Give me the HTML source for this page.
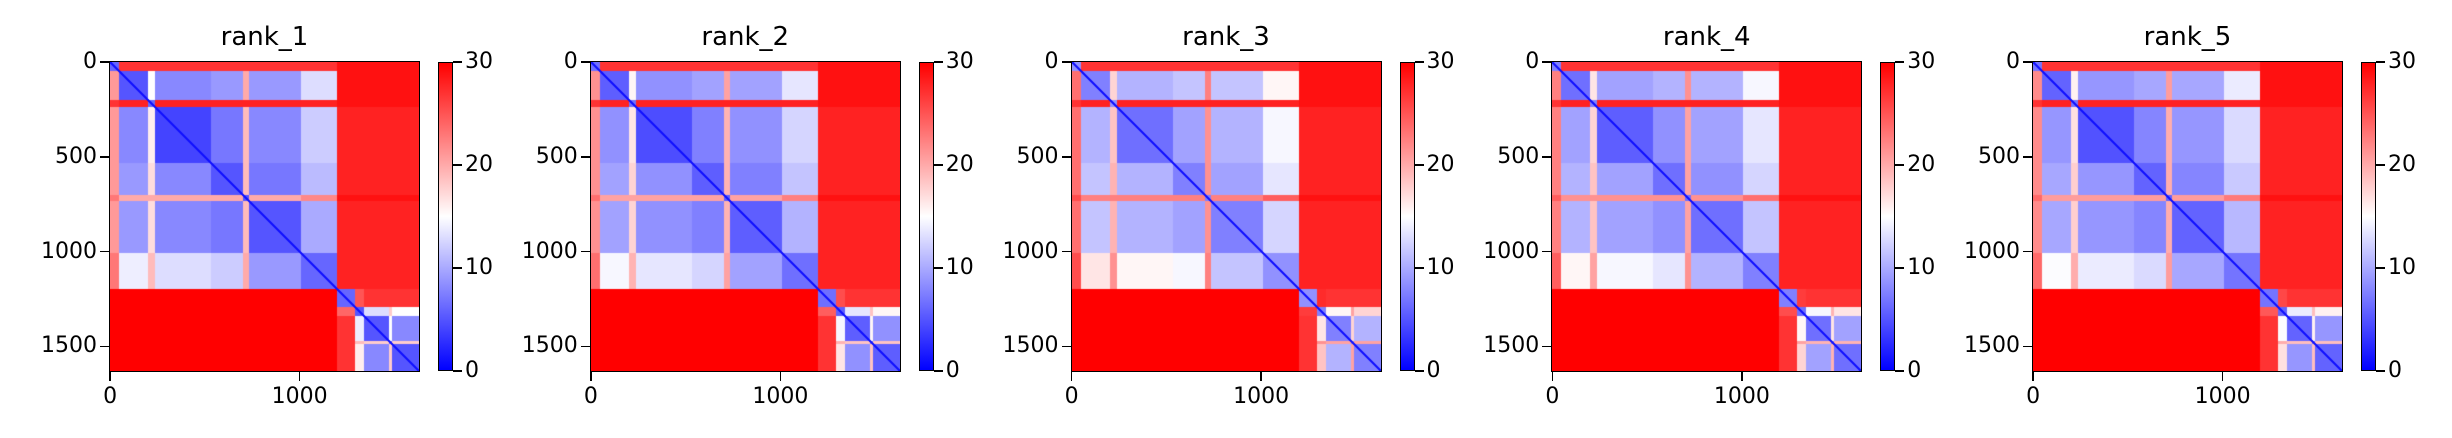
<!DOCTYPE html>
<html><head><meta charset="utf-8">
<style>
body{margin:0;background:#fff;width:2452px;height:438px;overflow:hidden;position:relative;font-family:"DejaVu Sans","Liberation Sans",sans-serif;}
.abs{position:absolute;}
.tl{position:absolute;font-size:22px;color:#000;white-space:nowrap;line-height:1;}
.title{position:absolute;font-size:26px;white-space:nowrap;line-height:1;transform:translateX(-50%);}
</style></head>
<body>
<div id="root"></div>
<script>
// ---- data ----
const panelTitles = ["rank_1","rank_2","rank_3","rank_4","rank_5"];
const panelShift = [0, 0.5, 2.5, 1.5, 0.8];
const nRes = 1630;
const segEdges = [0,45,200,235,535,700,735,1010,1195,1290,1340,1470,1490,1630];
const blockPAE = [
 [6,27,27,27,27,27,27,27,29,29,29,29,29],
 [21,5,15,8,9,20,9,13,29,29,29,29,29],
 [27,28,6,28,28,28,28,28,29,29,29,29,29],
 [21,8,16,4,7,19,8,12,28,28,28,28,28],
 [21,9,17,8,5,19,7,11,28,28,28,28,28],
 [23,20,20,20,20,5,20,22,29,29,29,29,29],
 [21,9,17,8,7,19,5,10,28,28,28,28,28],
 [23,14,19,13,12,20,9,6,28,28,28,28,28],
 [30,30,30,30,30,30,30,30,6,25,27,27,27],
 [30,30,30,30,30,30,30,30,24,5,13,18,15],
 [30,30,30,30,30,30,30,30,27,14,5,15,8],
 [30,30,30,30,30,30,30,30,27,19,18,6,18],
 [30,30,30,30,30,30,30,30,27,16,8,18,5]
];
const yTicks = [0,500,1000,1500];
const xTicks = [0,1000];
const cbTicks = [0,10,20,30];
const vmax = 30;

// ---- layout ----
const L0 = 110, DX = 480.75, TOP = 62, W = 309, CBO = 328, CBW = 15;
function pos(v){ return (v+0.5)/nRes*W; }
function seg(r){ for(let k=0;k<segEdges.length-1;k++){ if(r<segEdges[k+1]) return k; } return segEdges.length-2; }
function cmap(v){
  v=Math.max(0,Math.min(vmax,v))/vmax;
  if(v<0.5){const t=v/0.5;return [Math.round(255*t),Math.round(255*t),255];}
  const t=(v-0.5)/0.5;return [255,Math.round(255*(1-t)),Math.round(255*(1-t))];
}
const root=document.getElementById('root');
function add(tag,cls,style,text){const e=document.createElement(tag);if(cls)e.className=cls;e.setAttribute('style',style);if(text!==undefined)e.textContent=text;root.appendChild(e);return e;}

panelTitles.forEach((title,p)=>{
  const left = L0 + DX*p;
  const t = add('div','title',`left:${left+W/2}px;top:24px;`,title);
  
  
  const cv = document.createElement('canvas');
  cv.width=W; cv.height=W;
  cv.setAttribute('style',`position:absolute;left:${left}px;top:${TOP}px;width:${W}px;height:${W}px;`);
  
  
  root.appendChild(cv);
  const ctx=cv.getContext('2d');
  const img=ctx.createImageData(W,W);
  for(let i=0;i<W;i++){
    const ri=(i+0.5)*nRes/W, si=seg(ri);
    for(let j=0;j<W;j++){
      const rj=(j+0.5)*nRes/W, sj=seg(rj);
      let v=blockPAE[si][sj];
      if(v<26) v+=panelShift[p];
      if(Math.abs(ri-rj)<6) v=1;
      const c=cmap(v), o=(i*W+j)*4;
      img.data[o]=c[0];img.data[o+1]=c[1];img.data[o+2]=c[2];img.data[o+3]=255;
    }
  }
  ctx.putImageData(img,0,0);
  const fr=add('div','abs',`left:${left-1}px;top:${TOP-1}px;width:${W}px;height:${W}px;border:1.5px solid #000;`);
  
  
  yTicks.forEach(v=>{
    const y=TOP+pos(v);
    const tk=add('div','abs',`left:${left-10}px;top:${y-0.75}px;width:10px;height:1.5px;background:#000;`);
    
    
    const lb=add('div','tl',`right:${2452-(left-13)}px;top:${y-11}px;`,String(v));
    
    
  });
  xTicks.forEach(v=>{
    const x=left+pos(v);
    const tk=add('div','abs',`left:${x-0.75}px;top:${TOP+W}px;width:1.5px;height:10px;background:#000;`);
    
    
    const lb=add('div','tl',`left:${x}px;top:${TOP+W+15}px;transform:translateX(-50%);`,String(v));
    
    
  });
  const cbl=left+CBO;
  const cb=add('div','abs',`left:${cbl}px;top:${TOP}px;width:${CBW}px;height:${W}px;background:linear-gradient(to top,#0000ff,#ffffff,#ff0000);border:1.5px solid #000;box-sizing:border-box;`);
  
  
  cbTicks.forEach(v=>{
    const y=TOP+W-(v/vmax)*W;
    const tk=add('div','abs',`left:${cbl+CBW}px;top:${y-0.75}px;width:9px;height:1.5px;background:#000;`);
    
    
    const lb=add('div','tl',`left:${cbl+CBW+12}px;top:${y-11}px;`,String(v));
    
    
  });
});
</script>
</body></html>
